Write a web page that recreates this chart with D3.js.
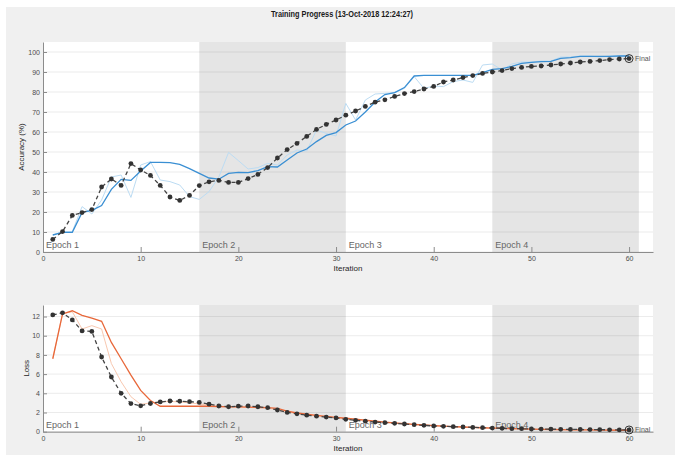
<!DOCTYPE html>
<html>
<head>
<meta charset="utf-8">
<script src="https://cdn.jsdelivr.net/npm/d3@7"></script>
<style>
  body { margin: 0; background: #fff; }
  text { font-family: "Liberation Sans", Arial, sans-serif; }
  .tick text { fill: #4d4d4d; font-size: 7px; }
  .axisLabel { fill: #262626; font-size: 8px; }
  .epochLabel { fill: #666; font-size: 9px; }
</style>
</head>
<body>
<script>
// Basic props
let w = 675, h = 455;

// Data (iterations 1..60)
let iterations = d3.range(1, 61);

let trainAccRaw = [8.5, 10.2, 10.2, 22.7, 19, 26, 37.5, 38.5, 27.3, 43.5,
  45.2, 36, 35.2, 33.5, 27.7, 26.3, 30.2, 37.5, 49.8, 45.7,
  41.5, 42.2, 44.3, 43.5, 48.5, 51, 50.5, 61, 59.3, 58,
  74.3, 66, 76, 79, 79.3, 79.7, 81.8, 87.7, 81.8, 83,
  82.7, 85.2, 86, 84.8, 93.5, 94, 91, 94, 95, 95,
  95.5, 95.5, 97.5, 97.5, 98, 98, 97.5, 98, 98, 98];

let trainAccSmooth = [8.5, 9.8, 9.8, 19.8, 20.8, 23.2, 31.3, 36.3, 35.8, 40.5,
  44.8, 44.8, 44.7, 43.8, 41.7, 39.3, 37, 36.4, 39.3, 39.8,
  39.7, 40.7, 42.7, 42.5, 46, 49.5, 51.5, 55.2, 58.3, 59.7,
  63.5, 65.5, 70, 75, 78.7, 79.7, 82.2, 88, 88.3, 88.3,
  88.3, 88.3, 88.3, 88.3, 89.7, 91.3, 91.7, 92.8, 94.3, 94.8,
  95.2, 95.3, 96.8, 97.2, 97.8, 97.8, 97.8, 97.8, 98, 98];

let valAcc = [6.3, 10.2, 18.3, 19.7, 21.2, 32.5, 36.5, 33.3, 44.2, 41,
  38.3, 33.3, 27.5, 25.8, 28.3, 33.2, 35.1, 35.8, 34.8, 34.8,
  36.7, 38.8, 42.2, 47, 51.2, 54.3, 57.8, 61.3, 63.8, 66,
  68.4, 70.5, 72.8, 74.9, 76.1, 77.8, 79.2, 80.2, 81.5, 82.8,
  85, 86, 87.2, 88.2, 89.3, 90, 90.7, 91.7, 92.3, 92.8,
  93, 93.5, 94, 94.5, 95, 95.3, 95.7, 96.2, 96.5, 96.7];

let trainLossRaw = [7.6, 12.3, 12.5, 10.7, 11.05, 10.7, 7.1, 5.2, 3.65, 2.85,
  3.0, 3.1, 3.15, 3.1, 3.0, 2.9, 2.75, 2.65, 2.6, 2.6,
  2.55, 2.55, 2.45, 2.3, 2.05, 1.9, 1.75, 1.65, 1.55, 1.45,
  1.35, 1.25, 1.12, 1.02, 0.95, 0.88, 0.8, 0.73, 0.67, 0.62,
  0.56, 0.52, 0.48, 0.44, 0.4, 0.37, 0.34, 0.31, 0.29, 0.27,
  0.25, 0.23, 0.22, 0.2, 0.19, 0.18, 0.17, 0.16, 0.15, 0.15];

let trainLossSmooth = [7.6, 12.27, 12.6, 12.12, 11.83, 11.5, 9.3, 7.6, 5.9, 4.3,
  3.25, 2.65, 2.65, 2.65, 2.65, 2.65, 2.65, 2.62, 2.6, 2.58,
  2.55, 2.52, 2.5, 2.42, 2.15, 1.95, 1.82, 1.7, 1.6, 1.5,
  1.4, 1.3, 1.2, 1.1, 1.0, 0.92, 0.84, 0.77, 0.7, 0.64,
  0.58, 0.53, 0.49, 0.45, 0.41, 0.37, 0.34, 0.31, 0.29, 0.27,
  0.25, 0.23, 0.22, 0.2, 0.19, 0.18, 0.17, 0.16, 0.15, 0.15];

let valLoss = [12.17, 12.38, 11.65, 10.5, 10.45, 7.78, 5.7, 4, 2.93, 2.7,
  2.94, 3.1, 3.2, 3.17, 3.13, 3.05, 2.87, 2.68, 2.6, 2.66,
  2.68, 2.6, 2.5, 2.26, 2.01, 1.86, 1.72, 1.62, 1.52, 1.43,
  1.29, 1.18, 1.1, 1.0, 0.94, 0.87, 0.8, 0.73, 0.66, 0.6,
  0.56, 0.52, 0.49, 0.45, 0.42, 0.38, 0.35, 0.32, 0.31, 0.28,
  0.27, 0.26, 0.25, 0.24, 0.23, 0.22, 0.21, 0.2, 0.19, 0.18];

let epochs = [
  {name: "Epoch 1", start: 0, end: 16},
  {name: "Epoch 2", start: 16, end: 31},
  {name: "Epoch 3", start: 31, end: 46},
  {name: "Epoch 4", start: 46, end: 61}
];

let accTicks = d3.range(0, 101, 10);
let lossTicks = d3.range(0, 13, 2);
let iterTicks = d3.range(0, 61, 10);

let title = "Training Progress (13-Oct-2018 12:24:27)";

// SVG
let svg = d3.select("body")
  .append("svg")
  .attr("width", w)
  .attr("height", h);

svg.append("rect")
  .attr("x", 6).attr("y", 7)
  .attr("width", w - 6).attr("height", h - 7)
  .attr("fill", "#f0f0f0");

svg.append("text")
  .attr("x", 342)
  .attr("y", 17)
  .attr("text-anchor", "middle")
  .attr("font-size", "8.5px")
  .attr("font-weight", "bold")
  .attr("fill", "#1a1a1a")
  .attr("textLength", 142)
  .attr("lengthAdjust", "spacingAndGlyphs")
  .text(title);

// one panel (accuracy or loss)
function drawPanel(opts) {
  let xScale = d3.scaleLinear().domain([0, 62.45]).range([43, 653]);
  let yScale = d3.scaleLinear().domain(opts.yDomain).range(opts.yRange);
  let top = opts.yRange[1], bottom = opts.yRange[0];

  let g = svg.append("g");

  // plot area and epoch bands
  g.append("rect")
    .attr("x", xScale(0)).attr("y", top)
    .attr("width", xScale.range()[1] - xScale(0))
    .attr("height", bottom - top)
    .attr("fill", "#fff");

  g.selectAll(".band")
    .data(epochs.filter((d, i) => i % 2 === 1))
    .enter().append("rect")
    .attr("x", d => xScale(d.start))
    .attr("y", top)
    .attr("width", d => xScale(d.end) - xScale(d.start))
    .attr("height", bottom - top)
    .attr("fill", "#e5e5e5");

  // horizontal grid
  g.selectAll(".grid")
    .data(opts.ticks)
    .enter().append("line")
    .attr("x1", xScale(0)).attr("x2", xScale.range()[1])
    .attr("y1", d => yScale(d)).attr("y2", d => yScale(d))
    .attr("stroke", "#000")
    .attr("stroke-opacity", 0.08)
    .attr("stroke-width", 1);

  // epoch labels
  g.selectAll(".epochLabel")
    .data(epochs)
    .enter().append("text")
    .attr("class", "epochLabel")
    .attr("x", d => xScale(d.start) + 3)
    .attr("y", bottom - 4)
    .text(d => d.name);

  // axes
  let xAxis = d3.axisBottom(xScale)
    .tickValues(iterTicks)
    .tickSizeInner(-5)
    .tickSizeOuter(0)
    .tickPadding(4);

  let yAxis = d3.axisLeft(yScale)
    .tickValues(opts.ticks)
    .tickSizeInner(-4)
    .tickSizeOuter(0)
    .tickPadding(3);

  let gx = g.append("g")
    .attr("transform", "translate(0," + bottom + ")")
    .call(xAxis);
  let gy = g.append("g")
    .attr("transform", "translate(" + xScale(0) + ",0)")
    .call(yAxis);
  [gx, gy].forEach(a => {
    a.selectAll("path, line").attr("stroke", "#8c8c8c");
  });

  // axis labels
  g.append("text")
    .attr("class", "axisLabel")
    .attr("x", 348)
    .attr("y", bottom + opts.xLabelOffset)
    .attr("text-anchor", "middle")
    .text("Iteration");

  g.append("text")
    .attr("class", "axisLabel")
    .attr("transform", "translate(" + opts.yLabelX + "," + ((top + bottom) / 2) + ") rotate(-90)")
    .attr("text-anchor", "middle")
    .text(opts.yLabel);

  // lines
  let line = vals => d3.line()
    .x((d, i) => xScale(iterations[i]))
    .y(d => yScale(d))(vals);

  g.append("path")
    .attr("d", line(opts.raw))
    .attr("fill", "none")
    .attr("stroke", opts.lightColor)
    .attr("stroke-width", 1);

  g.append("path")
    .attr("d", line(opts.smooth))
    .attr("fill", "none")
    .attr("stroke", opts.color)
    .attr("stroke-width", 1.3);

  g.append("path")
    .attr("d", line(opts.val))
    .attr("fill", "none")
    .attr("stroke", "#444")
    .attr("stroke-width", 1.3)
    .attr("stroke-dasharray", "4,3");

  g.selectAll(".dot")
    .data(opts.val)
    .enter().append("circle")
    .attr("cx", (d, i) => xScale(iterations[i]))
    .attr("cy", d => yScale(d))
    .attr("r", 2.4)
    .attr("fill", "#333");

  // final marker
  let last = opts.val.length - 1;
  let fx = xScale(iterations[last]), fy = yScale(opts.val[last]);
  g.append("circle")
    .attr("cx", fx).attr("cy", fy).attr("r", 4)
    .attr("fill", "none")
    .attr("stroke", "#333")
    .attr("stroke-width", 1);
  g.append("text")
    .attr("x", fx + 6)
    .attr("y", fy + 2.5)
    .attr("font-size", "7px")
    .attr("fill", "#555")
    .text("Final");
}

drawPanel({
  yDomain: [0, 105],
  yRange: [252, 42],
  ticks: accTicks,
  raw: trainAccRaw,
  smooth: trainAccSmooth,
  val: valAcc,
  color: "#3a8fd3",
  lightColor: "#bcdcf3",
  yLabel: "Accuracy (%)",
  yLabelX: 24,
  xLabelOffset: 19
});

drawPanel({
  yDomain: [0, 13.2],
  yRange: [431.7, 305],
  ticks: lossTicks,
  raw: trainLossRaw,
  smooth: trainLossSmooth,
  val: valLoss,
  color: "#e8683a",
  lightColor: "#f8c8b0",
  yLabel: "Loss",
  yLabelX: 29,
  xLabelOffset: 19
});
</script>
</body>
</html>
